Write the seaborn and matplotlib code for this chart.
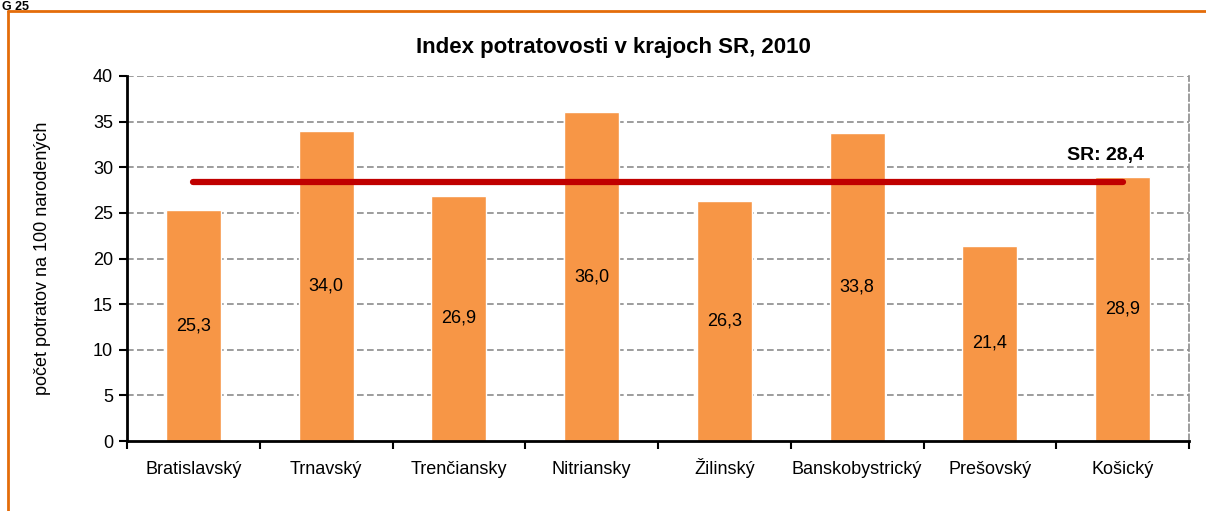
import matplotlib
matplotlib.use("Agg")
import matplotlib.pyplot as plt
import seaborn as sns
import pandas as pd
from matplotlib.lines import Line2D

regions = ["Bratislavský", "Trnavský", "Trenčiansky", "Nitriansky",
           "Žilinský", "Banskobystrický", "Prešovský", "Košický"]
values = [25.3, 34.0, 26.9, 36.0, 26.3, 33.8, 21.4, 28.9]
sr_value = 28.4
title = "Index potratovosti v krajoch SR, 2010"
ylabel = "počet potratov na 100 narodených"
yticks = [0, 5, 10, 15, 20, 25, 30, 35, 40]

sns.set_theme(style="white")
plt.rcParams['font.family'] = ['Liberation Sans Narrow', 'Liberation Sans', 'DejaVu Sans']
plt.rcParams['text.color'] = 'black'
plt.rcParams['axes.labelcolor'] = 'black'
plt.rcParams['xtick.color'] = 'black'
plt.rcParams['ytick.color'] = 'black'

df = pd.DataFrame({"kraj": regions, "index": values})

fig = plt.figure(figsize=(12.06, 5.11), dpi=100)
ax = fig.add_axes([127/1206, 1-441/511, (1189-127)/1206, (441-76)/511])

sns.barplot(data=df, x="kraj", y="index", color="#F79646", saturation=1,
            width=0.415, ax=ax, zorder=2)

ax.set_ylim(0, 40)
ax.set_xlim(-0.5, len(regions)-0.5)
ax.set_yticks(yticks)
ax.set_yticklabels([str(t) for t in yticks], fontsize=13)
ax.set_xticks(range(len(regions)))
ax.set_xticklabels(regions, fontsize=13)
ax.tick_params(axis='x', which='major', length=0, pad=24)
for lbl in ax.get_xticklabels():
    lbl.set_va('baseline')
ax.set_xticks([i - 0.5 for i in range(len(regions)+1)], minor=True)
ax.tick_params(axis='x', which='minor', length=6, width=1.5, color='black', direction='out', bottom=True)
ax.tick_params(axis='y', length=6, width=1.5, color='black', direction='out', left=True, pad=4)

for y in yticks[1:]:
    ax.axhline(y, color='#8c8c8c', linestyle=(0, (4, 2)), linewidth=1.2, zorder=1)

ax.set_xlabel("")
ax.set_ylabel(ylabel, fontsize=13, labelpad=30)
fig.text(613/1206, 1-47/511, title, fontsize=16, fontweight='bold', ha='center', va='center')

ax.spines['top'].set_visible(False)
ax.spines['right'].set_visible(True)
ax.spines['right'].set_color('#8c8c8c')
ax.spines['right'].set_linestyle((0, (4, 2)))
ax.spines['right'].set_linewidth(1.2)
ax.spines['left'].set_color('black')
ax.spines['left'].set_linewidth(2)
ax.spines['bottom'].set_color('black')
ax.spines['bottom'].set_linewidth(2)
ax.spines['bottom'].set_zorder(3)

for i, v in enumerate(values):
    ax.text(i, v/2, f"{v:.1f}".replace('.', ','), ha='center', va='center', fontsize=13, zorder=4)

ax.plot([0, len(regions)-1], [sr_value, sr_value], color='#C00000', linewidth=4.5,
        solid_capstyle='round', zorder=5)
ax.text(len(regions)-1 - 0.13, sr_value + 2.9, f"SR: {sr_value:.1f}".replace('.', ','),
        ha='center', va='center', fontsize=14, fontweight='bold', zorder=5)

# orange frame (top and left edges)
fig.add_artist(Line2D([8/1206, 1], [1-11/511, 1-11/511], color='#E46C0A', linewidth=2, transform=fig.transFigure))
fig.add_artist(Line2D([8/1206, 8/1206], [0, 1-11/511], color='#E46C0A', linewidth=2, transform=fig.transFigure))
fig.text(2/1206, 1-1/511, "G 25", fontsize=9, fontweight='bold', ha='left', va='top')

fig.savefig("out.png", dpi=100)
